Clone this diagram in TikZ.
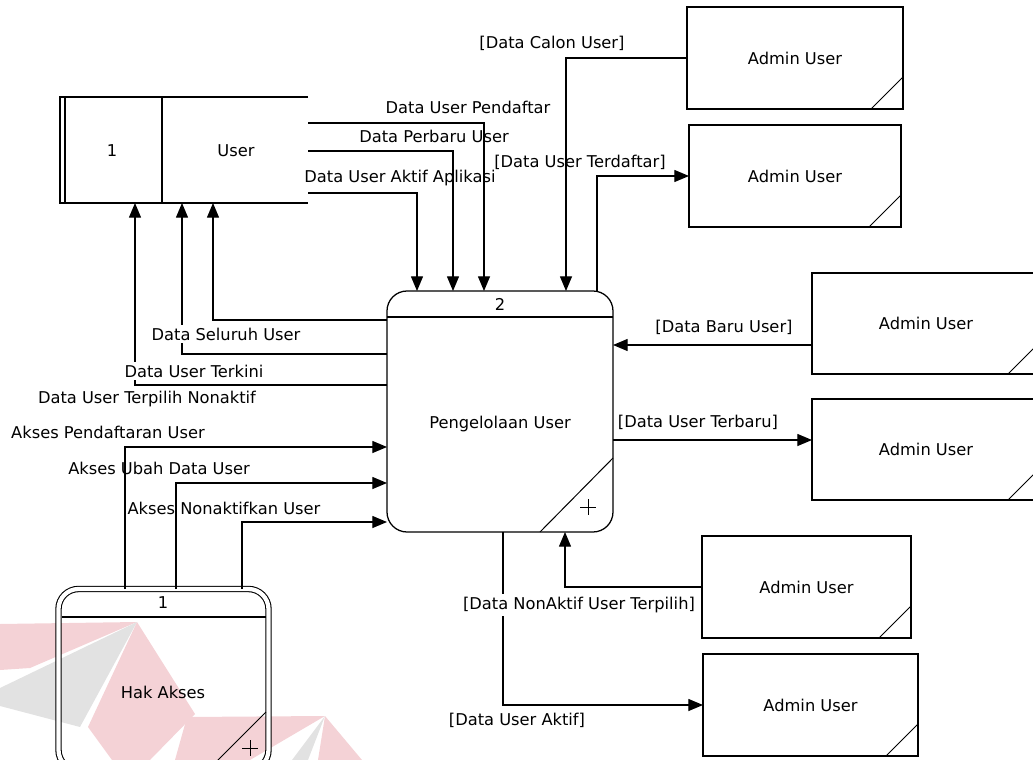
\documentclass[tikz,border=0pt]{standalone}
\usepackage{fontspec}
\setmainfont{DejaVu Sans}
\usetikzlibrary{arrows.meta,calc}
\definecolor{wmred}{RGB}{244,210,214}
\definecolor{wmgray}{RGB}{226,226,226}
\begin{document}
\begin{tikzpicture}[x=0.75pt,y=-0.75pt,
  every node/.style={font=\fontsize{12.2}{14}\selectfont, inner sep=0pt, outer sep=0pt},
  ln/.style={line width=0.95pt},
  flow/.style={ln, -{Triangle[length=11pt,width=9pt]}},
  lbl/.style={inner sep=1pt},
  lblw/.style={fill=white, inner sep=2pt},
  admin/.style={draw, ln, path picture={\draw[line width=0.75pt] ($(path picture bounding box.south east)+(0,24pt)$) -- ($(path picture bounding box.south east)+(-24pt,0)$);}}
]
\useasboundingbox (0,0) rectangle (1033,760);
\clip (0,0) rectangle (1033,760);

% faint watermark
\fill[wmred] (0,624) -- (137,622) -- (30,668) -- (0,670) -- cycle;
\fill[wmgray] (137,622) -- (0,688) -- (0,706) -- (80,727) -- cycle;
\fill[wmred] (137,622) -- (195,714) -- (150,760) -- (112,760) -- (88,727) -- cycle;
\fill[wmred] (187,717) -- (325,716) -- (250,760) -- (175,760) -- cycle;
\fill[wmgray] (325,716) -- (292,760) -- (308,760) -- cycle;
\fill[wmred] (325,716) -- (362,760) -- (318,760) -- cycle;

% data store User
\node[minimum width=248*0.75pt, minimum height=106*0.75pt] (store) at (184,150) {};
\draw[ln] (store.north east) -- (store.north west) -- (store.south west) -- (store.south east);
\draw[ln] ($(store.north west)+(5,0)$) -- ($(store.south west)+(5,0)$);
\draw[ln] (store.north -| 162,0) -- (store.south -| 162,0);
\node (storeid) at (112,151) {1};
\node (storename) at (236,151) {User};

% process 2
\node[draw, ln, rounded corners=15pt, minimum width=226*0.75pt, minimum height=241*0.75pt] (proc) at (500,411.5) {};
\draw[ln] (proc.west |- 0,317) -- (proc.east |- 0,317);
\draw[line width=0.75pt] (proc.south -| 540,0) -- (proc.east |- 0,458);
\draw[line width=0.75pt] (580,507) -- (596,507) (588,499) -- (588,515);
\node (procid) at (500,304) {2};
\node (procname) at (500,424) {Pengelolaan User};

% process 1 Hak Akses
\node[draw, line width=0.8pt, double, double distance=3.2pt, rounded corners=15pt, minimum width=210*0.75pt, minimum height=181*0.75pt] (hak) at (163.5,679.5) {};
\draw[ln] (62,617) -- (266,617);
\draw[line width=0.75pt] (266,712) -- (212,766);
\draw[line width=0.75pt] (242,748) -- (258,748) (250,740) -- (250,756);
\node (hakid) at (163,603) {1};
\node (hakname) at (163,692) {Hak Akses};

% external entities
\node[admin, minimum width=216*0.75pt, minimum height=102*0.75pt] (a1) at (795,58) {Admin User};
\node[admin, minimum width=212*0.75pt, minimum height=102*0.75pt] (a2) at (795,176) {Admin User};
\node[admin, minimum width=228*0.75pt, minimum height=101*0.75pt] (a3) at (926,323.5) {Admin User};
\node[admin, minimum width=228*0.75pt, minimum height=101*0.75pt] (a4) at (926,449.5) {Admin User};
\node[admin, minimum width=209*0.75pt, minimum height=102*0.75pt] (a5) at (806.5,587) {Admin User};
\node[admin, minimum width=215*0.75pt, minimum height=102*0.75pt] (a6) at (810.5,705) {Admin User};

% unfilled labels (lines pass over them)
\node[lbl] (lpend) at (468,107) {Data User Pendaftar};
\node[lbl] (lperb) at (434,136) {Data Perbaru User};
\node[lbl] (lakt) at (400,178) {Data User Aktif Aplikasi};
\node[lbl] (lcalon) at (552,43) {[Data Calon User]};
\node[lbl] (lterd) at (580,162) {[Data User Terdaftar]};
\node[lbl] (lbaru) at (724,327) {[Data Baru User]};
\node[lbl] (lterb) at (698,422) {[Data User Terbaru]};
\node[lbl] (laktif) at (517,720) {[Data User Aktif]};
\node[lbl] (lnon) at (147,399) {Data User Terpilih Nonaktif};
\node[lbl] (lapend) at (108,432) {Akses Pendaftaran User};
\node[lbl] (laubah) at (159,468) {Akses Ubah Data User};
\node[lbl] (lanon) at (224,508) {Akses Nonaktifkan User};

% connectors
\draw[flow] (store.east |- 0,123) -| (proc.north -| 484,0);
\draw[flow] (store.east |- 0,151) -| (proc.north -| 453,0);
\draw[flow] (store.east |- 0,193) -| (proc.north -| 417,0);
\draw[flow] (a1.west) -| (proc.north -| 566,0);
\draw[flow] (proc.north -| 597,0) |- (a2.west);
\draw[flow] (a3.west |- 0,345) -- (proc.east |- 0,345);
\draw[flow] (proc.east |- 0,440) -- (a4.west |- 0,440);
\draw[flow] (a5.west) -| (proc.south -| 565,0);
\draw[flow] (proc.south -| 503,0) |- (a6.west);
\draw[flow] (proc.west |- 0,320) -| (store.south -| 213,0);
\draw[flow] (proc.west |- 0,354) -| (store.south -| 182,0);
\draw[flow] (proc.west |- 0,385) -| (store.south -| 135,0);
\draw[flow] (hak.north -| 125,0) |- (proc.west |- 0,447);
\draw[flow] (hak.north -| 176,0) |- (proc.west |- 0,483);
\draw[flow] (hak.north -| 242,0) |- (proc.west |- 0,522);

% filled labels (they interrupt the lines)
\node[lblw] (lselu) at (226,334) {Data Seluruh User};
\node[lblw] (lterk) at (194,371) {Data User Terkini};
\node[lblw] (lnonak) at (579,605) {[Data NonAktif User Terpilih]};
\end{tikzpicture}
\end{document}
